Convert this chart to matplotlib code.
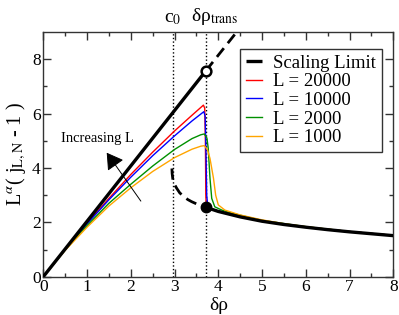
import matplotlib
matplotlib.use("Agg")
import matplotlib.pyplot as plt

plt.rcParams['font.family'] = ['Liberation Serif', 'DejaVu Serif']
plt.rcParams['mathtext.fontset'] = 'stix'

# ---------------- data ----------------
c0 = 2.96
drho_trans = 3.72

# scaling limit, upper (stable) branch
sl_up_x = [0.0, 3.72]
sl_up_y = [0.0, 7.58]
# scaling limit, upper branch continued (dashed)
sl_up_dash_x = [3.72, 4.45]
sl_up_dash_y = [7.58, 9.06]
# scaling limit, lower branch (solid)
sl_lo_x = [3.72, 4.0, 4.5, 5.0, 5.5, 6.0, 6.5, 7.0, 7.5, 8.0]
sl_lo_y = [2.55, 2.40, 2.20, 2.04, 1.92, 1.82, 1.73, 1.65, 1.58, 1.51]
# scaling limit, unstable branch (dashed)
sl_un_x = [2.94, 2.945, 2.96, 2.99, 3.05, 3.12, 3.20, 3.30, 3.39, 3.50, 3.60, 3.72]
sl_un_y = [3.98, 3.80, 3.60, 3.42, 3.25, 3.08, 2.97, 2.84, 2.76, 2.68, 2.62, 2.55]

labels = ['L = 20000', 'L = 10000', 'L = 2000', 'L = 1000']
colors = ['#ff0000', '#0000ff', '#009000', '#ffa500']

red_x = [0, 0.5, 1.0, 1.5, 2.0, 2.5, 3.0, 3.4, 3.66, 3.69, 3.705, 3.715, 3.725, 3.8, 4.0, 4.5, 5.0, 6.0, 7.0, 8.0]
red_y = [0, 1.01, 1.97, 2.88, 3.76, 4.58, 5.36, 5.94, 6.31, 6.20, 5.00, 3.00, 2.60, 2.50, 2.41, 2.21, 2.05, 1.83, 1.66, 1.52]

blue_x = [0, 0.5, 1.0, 1.5, 2.0, 2.5, 3.0, 3.4, 3.67, 3.70, 3.72, 3.735, 3.76, 3.85, 4.0, 4.5, 5.0, 6.0, 7.0, 8.0]
blue_y = [0, 1.00, 1.94, 2.83, 3.66, 4.45, 5.18, 5.73, 6.07, 5.90, 4.50, 3.00, 2.60, 2.49, 2.42, 2.22, 2.06, 1.83, 1.66, 1.52]

green_x = [0, 0.5, 1.0, 1.5, 2.0, 2.5, 3.0, 3.4, 3.6, 3.68, 3.74, 3.77, 3.81, 3.85, 3.92, 4.08, 4.3, 5.0, 6.0, 7.0, 8.0]
green_y = [0, 0.98, 1.88, 2.70, 3.40, 4.07, 4.68, 5.08, 5.22, 5.25, 5.10, 4.72, 3.62, 2.88, 2.57, 2.45, 2.34, 2.07, 1.84, 1.66, 1.52]

orange_x = [0, 0.5, 1.0, 1.5, 2.0, 2.5, 3.0, 3.4, 3.6, 3.68, 3.75, 3.81, 3.89, 3.94, 4.0, 4.15, 4.5, 5.0, 5.5, 6.0, 7.0, 8.0]
orange_y = [0, 0.97, 1.82, 2.60, 3.27, 3.87, 4.38, 4.69, 4.80, 4.82, 4.68, 4.35, 3.62, 3.00, 2.64, 2.45, 2.27, 2.09, 1.95, 1.84, 1.66, 1.52]

series_x = [red_x, blue_x, green_x, orange_x]
series_y = [red_y, blue_y, green_y, orange_y]

xticks = [0, 1, 2, 3, 4, 5, 6, 7, 8]
yticks = [0, 2, 4, 6, 8]

# ---------------- figure ----------------
fig = plt.figure(figsize=(3.99, 3.15), dpi=100)
ax = fig.add_axes([0.1085, 0.1216, 0.8772, 0.7768])

# dotted reference lines
ax.axvline(c0, color='black', lw=1.0, ls=(0, (1, 1.6)), zorder=1)
ax.axvline(drho_trans, color='black', lw=1.0, ls=(0, (1, 1.6)), zorder=1)

for xs, ys, c, lab in zip(series_x, series_y, colors, labels):
    ax.plot(xs, ys, color=c, lw=1.0, label=lab, zorder=2)

ax.plot(sl_up_x, sl_up_y, color='black', lw=2.4, zorder=3, label='Scaling Limit',
        solid_capstyle='butt')
ax.plot(sl_up_dash_x, sl_up_dash_y, color='black', lw=2.0, ls=(0, (4, 2.3)), zorder=3)
ax.plot(sl_lo_x, sl_lo_y, color='black', lw=2.4, zorder=3)
ax.plot(sl_un_x, sl_un_y, color='black', lw=2.0, ls=(0, (4, 2.3)), zorder=3)

ax.plot([sl_up_x[-1]], [sl_up_y[-1]], 'o', ms=7, mfc='white', mec='black', mew=1.8, zorder=5)
ax.plot([sl_lo_x[0]], [sl_lo_y[0]], 'o', ms=7.5, mfc='black', mec='black', zorder=5)

# arrow "Increasing L"
ax.annotate('', xy=(1.45, 4.56), xytext=(2.23, 2.78),
            arrowprops=dict(arrowstyle='-|>,head_length=0.5,head_width=0.3',
                            color='black', lw=0.7,
                            mutation_scale=20, shrinkA=0, shrinkB=0), zorder=4)
ax.text(1.24, 5.1, 'Increasing L', ha='center', va='center', fontsize=10.5)

ax.set_xlim(0, 8)
ax.set_ylim(0, 9)
ax.set_xticks(xticks)
ax.set_yticks(yticks)
ax.set_xticks([0.5 + i for i in range(8)], minor=True)
ax.set_yticks([1, 3, 5, 7], minor=True)
ax.tick_params(which='both', direction='in', top=True, right=True, labelsize=12.5,
               color='#333333', pad=2)
ax.tick_params(which='major', length=6, width=1)
ax.tick_params(which='minor', length=3, width=1)
for s in ax.spines.values():
    s.set_color('#333333')
    s.set_linewidth(1.0)

ax.set_xlabel('δρ', fontsize=14, labelpad=1)
ax.set_ylabel(r'L$^{\alpha}$( j$_{\rm L,N}$ - 1 )', fontsize=14.5, labelpad=3)

# top annotations
ax.text(c0, 1.02, r'c$_0$', transform=ax.get_xaxis_transform(), ha='center',
        va='bottom', fontsize=14)
ax.text(3.38, 1.02, r'δρ$_{\rm trans}$', transform=ax.get_xaxis_transform(), ha='left',
        va='bottom', fontsize=14)

handles, labs = ax.get_legend_handles_labels()
order = [4, 0, 1, 2, 3]
leg = ax.legend([handles[i] for i in order], [labs[i] for i in order],
                loc='upper right', bbox_to_anchor=(0.967, 0.931), fontsize=13.5,
                frameon=True, fancybox=False, edgecolor='#333333', framealpha=1,
                handlelength=0.85, handletextpad=0.6, labelspacing=0.08,
                borderpad=0.3, borderaxespad=0)
leg.get_frame().set_linewidth(1.0)

fig.savefig('out.png', dpi=100)
